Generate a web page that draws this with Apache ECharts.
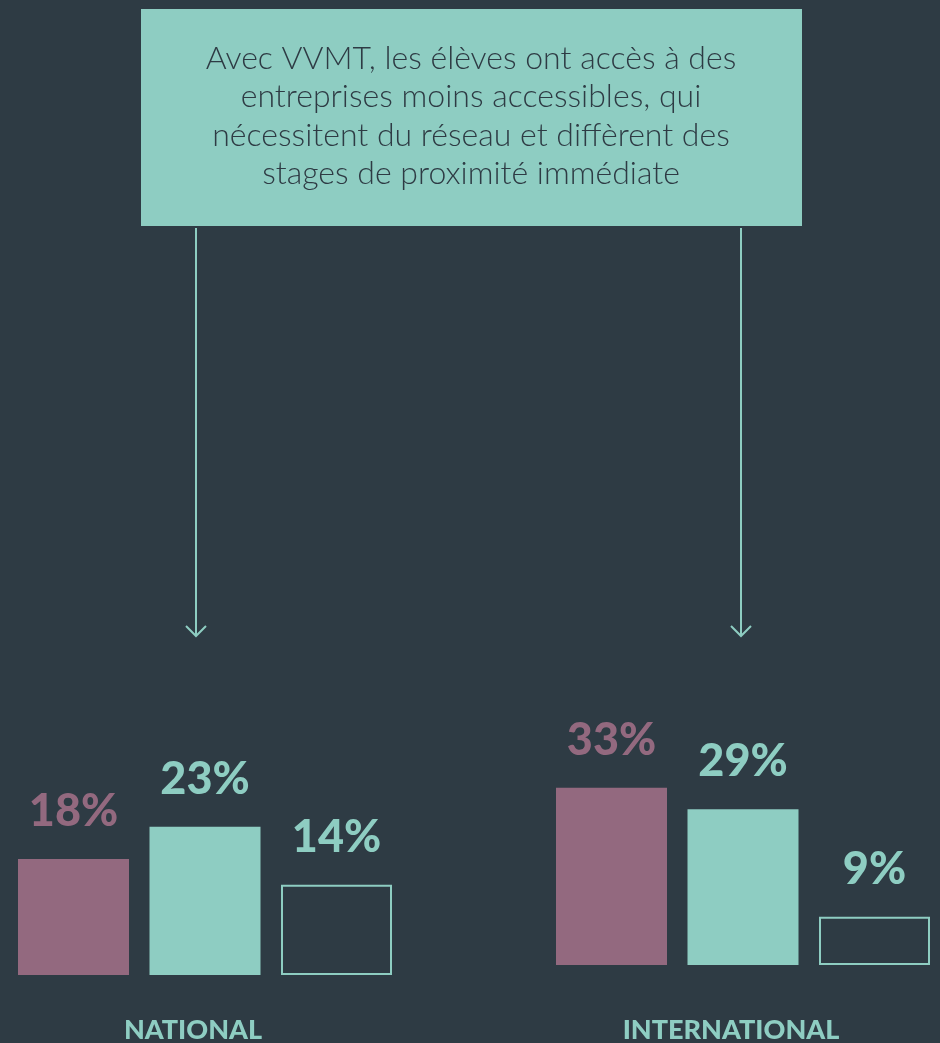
<!DOCTYPE html>
<html>
<head>
<meta charset="utf-8">
<script src="https://cdn.jsdelivr.net/npm/echarts@6/dist/echarts.min.js"></script>
<style>
html,body{margin:0;padding:0;background:#2e3b44;}
#chart{width:940px;height:1043px;}
</style>
</head>
<body>
<div id="chart"></div>
<script>
const groups = ['NATIONAL', 'INTERNATIONAL'];
const barNames = ['a', 'b', 'c'];
const nationalValues = [18, 23, 14];
const internationalValues = [33, 29, 9];
const calloutLines = [
  'Avec VVMT, les élèves ont accès à des',
  'entreprises moins accessibles, qui',
  'nécessitent du réseau et diffèrent des',
  'stages de proximité immédiate'
];

const bg = '#2e3b44', teal = '#8ecdc2', plum = '#93697f';
const barStyles = [
  { color: plum },
  { color: teal },
  { color: bg, borderColor: teal, borderWidth: 2 }
];
const labelColors = [plum, teal, teal];

function makeData(vals) {
  return vals.map((v, i) => ({
    value: v,
    itemStyle: barStyles[i],
    label: { color: labelColors[i] }
  }));
}

const chart = echarts.init(document.getElementById('chart'), null, { renderer: 'canvas' });

const labelCfg = {
  show: true,
  position: 'top',
  distance: 25,
  formatter: '{c}%',
  fontFamily: 'Lato',
  fontWeight: 900,
  fontSize: 45
};

const groupFont = '900 27px Lato';
const hiddenX = { type: 'category', data: barNames, axisLine: { show: false }, axisTick: { show: false }, axisLabel: { show: false } };

const option = {
  backgroundColor: bg,
  animation: false,
  grid: [
    { left: 7.75, width: 394.5, top: 652.5, height: 322.5, outerBoundsMode: 'none', containLabel: false },
    { left: 545.75, width: 394.5, top: 696.5, height: 268.5, outerBoundsMode: 'none', containLabel: false }
  ],
  xAxis: [
    Object.assign({ gridIndex: 0 }, hiddenX),
    Object.assign({ gridIndex: 1 }, hiddenX)
  ],
  yAxis: [
    { gridIndex: 0, type: 'value', min: 0, max: 50, show: false, splitLine: { show: false } },
    { gridIndex: 1, type: 'value', min: 0, max: 50, show: false, splitLine: { show: false } }
  ],
  series: [
    { type: 'bar', xAxisIndex: 0, yAxisIndex: 0, barWidth: 111, data: makeData(nationalValues), label: labelCfg },
    { type: 'bar', xAxisIndex: 1, yAxisIndex: 1, barWidth: 111, data: makeData(internationalValues), label: labelCfg }
  ],
  graphic: [
    { type: 'rect', shape: { x: 141, y: 9, width: 661, height: 217 }, style: { fill: teal } },
    { type: 'text', x: 471, y: 39, style: {
        text: calloutLines.join('\n'), fill: bg, font: '300 32px Lato', lineHeight: 38.5,
        align: 'center', verticalAlign: 'top' } },
    { type: 'line', shape: { x1: 196, y1: 228, x2: 196, y2: 636 }, style: { stroke: teal, lineWidth: 2 } },
    { type: 'polyline', shape: { points: [[186, 626], [196, 636], [206, 626]] }, style: { stroke: teal, lineWidth: 2, fill: null } },
    { type: 'line', shape: { x1: 741, y1: 228, x2: 741, y2: 636 }, style: { stroke: teal, lineWidth: 2 } },
    { type: 'polyline', shape: { points: [[731, 626], [741, 636], [751, 626]] }, style: { stroke: teal, lineWidth: 2, fill: null } },
    { type: 'text', x: 193, y: 1030, style: { text: groups[0], fill: teal, font: groupFont, align: 'center', verticalAlign: 'middle' } },
    { type: 'text', x: 731, y: 1030, style: { text: groups[1], fill: teal, font: groupFont, align: 'center', verticalAlign: 'middle' } }
  ]
};
chart.setOption(option);
</script>
</body>
</html>
